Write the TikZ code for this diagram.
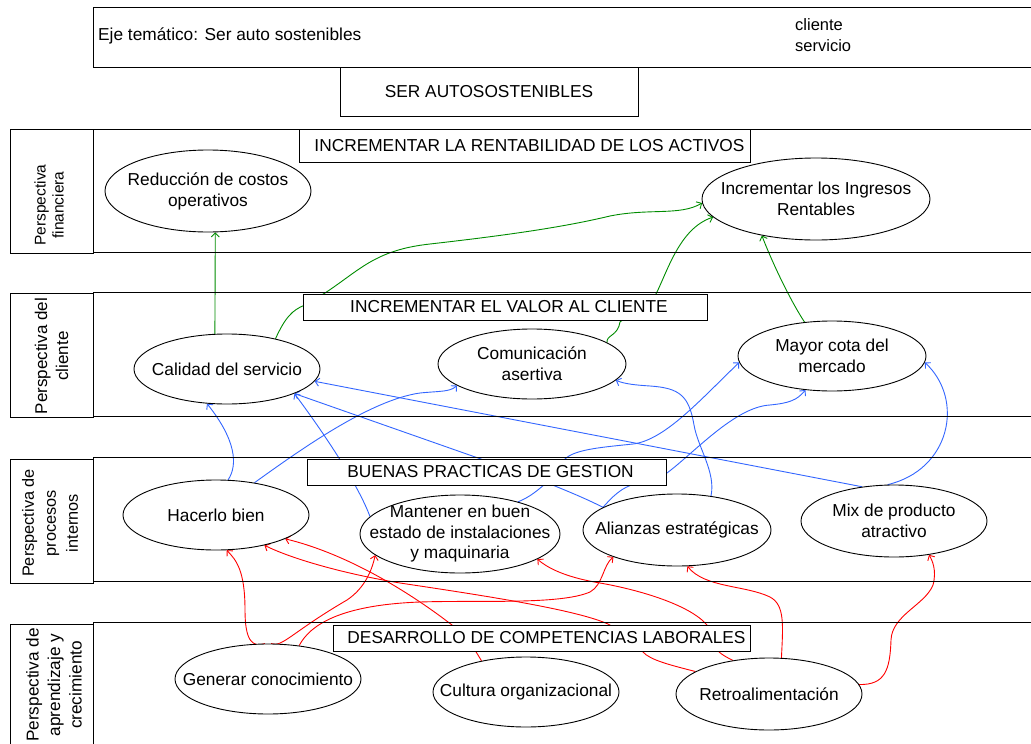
\documentclass[tikz,border=0pt]{standalone}
\usepackage{fontspec}
\setmainfont{Liberation Sans}
\usetikzlibrary{shapes.geometric,arrows.meta}
\pgfdeclarelayer{paper}
\pgfdeclarelayer{links}
\pgfsetlayers{paper,links,main}
\definecolor{lnGreen}{RGB}{0,140,0}
\definecolor{lnBlue}{RGB}{51,102,255}
\definecolor{lnRed}{RGB}{255,0,0}

\begin{document}
\begin{tikzpicture}[x=1pt,y=-1pt,
  txt/.style={font=\fontsize{17.3}{21}\selectfont},
  lbl/.style={align=center,inner sep=0pt,font=\fontsize{17.3}{21}\selectfont},
  oval/.style={ellipse,draw,line width=0.9pt,fill=white,inner sep=0pt},
  band/.style={draw,line width=0.9pt},
  title/.style={draw,line width=0.9pt,fill=white,inner sep=0pt,font=\fontsize{17.3}{21}\selectfont},
  side/.style={rotate=90,align=center,inner sep=0pt},
  conn/.style={line width=0.9pt,-{Straight Barb[length=4pt,width=8pt]}},
  gconn/.style={conn,draw=lnGreen},
  bconn/.style={conn,draw=lnBlue},
  rconn/.style={conn,draw=lnRed}]

\useasboundingbox (0,0) rectangle (1031,744);
\begin{pgfonlayer}{paper}
  \fill[white] (0,0) rectangle (1031,744);
\end{pgfonlayer}

% heading
\draw[band] (93,7) rectangle (1040,67);
\node[txt,anchor=west,inner sep=0pt] (eje) at (98,36) {Eje temático: Ser auto sostenibles};
\node[align=left,anchor=west,inner sep=0pt,font=\fontsize{16.5}{21}\selectfont] (cs) at (795,35) {cliente\\ servicio};
\node[title,minimum width=298pt,minimum height=49pt] (ser) at (489,91.5) {SER AUTOSOSTENIBLES};

% perspective bands
\draw[band] (10,129) rectangle (93,253);
\draw[band] (93,129) rectangle (1040,252);
\draw[band] (10,293) rectangle (93,417);
\draw[band] (93,292) rectangle (1040,416);
\draw[band] (10,459) rectangle (93,583);
\draw[band] (93,457) rectangle (1040,581);
\draw[band] (10,624) rectangle (93,760);
\draw[band] (93,622) rectangle (1040,760);

\node[side,font=\fontsize{15.5}{18}\selectfont] (pf) at (49,205) {Perspectiva\\financiera};
\node[side,font=\fontsize{17}{21}\selectfont] (pc) at (51.5,356) {Perspectiva del\\cliente};
\node[side,font=\fontsize{16.3}{22}\selectfont] (pp) at (50,523) {Perspectiva de\\procesos\\internos};
\node[side,font=\fontsize{17.2}{21.5}\selectfont] (pa) at (54,685) {Perspectiva de\\aprendizaje y\\crecimiento};

% band titles
\node[title,minimum width=451pt,minimum height=33pt] (trent) at (524.5,145.5) {\hspace{10pt}INCREMENTAR LA RENTABILIDAD DE LOS ACTIVOS};
\node[title,minimum width=404pt,minimum height=26pt] (tval) at (505,307) {\hspace{8pt}INCREMENTAR EL VALOR AL CLIENTE};
\node[title,minimum width=359pt,minimum height=26pt] (tbue) at (486.5,472) {\hspace{8pt}BUENAS PRACTICAS DE GESTION};
\node[title,minimum width=417pt,minimum height=26pt] (tdes) at (541.5,638) {\hspace{10pt}DESARROLLO DE COMPETENCIAS LABORALES};

% objectives
\node[oval,minimum width=206pt,minimum height=82pt,label={[lbl]center:{Reducción de costos\\operativos}}] (rdc) at (208,191) {};
\node[oval,minimum width=228pt,minimum height=82pt,label={[lbl]center:{Incrementar los Ingresos\\Rentables}}] (ing) at (816,199) {};
\node[oval,minimum width=186pt,minimum height=70pt,label={[lbl]center:{Calidad del servicio}}] (cal) at (227,369) {};
\node[oval,minimum width=188pt,minimum height=70pt,label={[lbl]center:{Comunicación\\asertiva}}] (com) at (532,364) {};
\node[oval,minimum width=188pt,minimum height=70pt,label={[lbl]center:{Mayor cota del\\mercado}}] (may) at (832,356) {};
\node[oval,minimum width=186pt,minimum height=70pt,label={[lbl]center:{Hacerlo bien}}] (hac) at (216,515) {};
\node[oval,minimum width=200pt,minimum height=78pt,label={[lbl,font=\fontsize{17.3}{20.5}\selectfont]center:{Mantener en buen\\estado de instalaciones\\y maquinaria}}] (man) at (460,534) {};
\node[oval,minimum width=188pt,minimum height=72pt,label={[lbl]center:{Alianzas estratégicas}}] (ali) at (677,530) {};
\node[oval,minimum width=186pt,minimum height=72pt,label={[lbl]center:{Mix de producto\\atractivo}}] (mix) at (894,521) {};
\node[oval,minimum width=186pt,minimum height=70pt,label={[lbl]center:{Generar conocimiento}}] (gen) at (268,679) {};
\node[oval,minimum width=186pt,minimum height=70pt,label={[lbl]center:{Cultura organizacional}}] (cul) at (526,692) {};
\node[oval,minimum width=186pt,minimum height=72pt,label={[lbl]center:{Retroalimentación}}] (ret) at (769,694) {};

\begin{pgfonlayer}{links}
% client -> financial
\draw[gconn] (cal.109) -- (rdc.-80);
\draw[gconn] (cal.32) .. controls (285,318) and (292,310) .. (305,305) -- (325,293)
  .. controls (360,270) and (375,250) .. (430,244) .. controls (500,236) and (560,228) .. (610,216)
  .. controls (650,208) and (680,216) .. (ing.182);
\draw[gconn] (com.16) .. controls (606,335) and (618,336) .. (620,322) -- (656,294)
  .. controls (668,270) and (680,228) .. (ing.190);
\draw[gconn] (may.129) .. controls (790,300) and (772,262) .. (ing.214);

% internal -> client
\draw[bconn] (hac.71) .. controls (238,465) and (236,440) .. (cal.-120);
\draw[bconn] (hac.40) .. controls (300,450) and (370,400) .. (420,393) .. controls (440,391) and (450,392) .. (com.196);
\draw[bconn] (man.169) .. controls (362,495) and (340,455) .. (cal.-20);
\draw[bconn] (ali.163) .. controls (585,498) and (560,488) .. (535,478) -- (cal.-20);
\draw[bconn] (mix.133) -- (cal.-8);
\draw[bconn] (mix.100) .. controls (950,470) and (965,400) .. (may.-4);
\draw[bconn] (ali.163) .. controls (612,497) and (622,487) .. (635,484) -- (667,473)
  .. controls (695,452) and (735,407) .. (770,405) .. controls (790,403) and (797,400) .. (may.-128);
\draw[bconn] (man.29) .. controls (530,497) and (538,490) .. (545,484) -- (565,459)
  .. controls (575,449) and (605,447) .. (633,444) .. controls (665,440) and (700,400) .. (may.184);
\draw[bconn] (ali.45) .. controls (716,472) and (698,448) .. (694,425) .. controls (689,396) and (680,388) .. (650,386)
  .. controls (635,385) and (625,384) .. (com.-11);

% learning -> internal
\draw[rconn] (gen.95) .. controls (252,648) and (245,640) .. (245,610) .. controls (245,570) and (236,560) .. (hac.-73);
\draw[rconn] (gen.85) .. controls (282,648) and (292,632) .. (347,600) .. controls (365,588) and (372,570) .. (man.194);
\draw[rconn] (gen.47) .. controls (310,625) and (340,605) .. (420,602) .. controls (480,600) and (560,605) .. (590,592)
  .. controls (603,585) and (603,565) .. (ali.203);
\draw[rconn] (cul.145) .. controls (478,655) and (470,640) .. (452,625) .. controls (400,585) and (340,552) .. (hac.-19);
\draw[rconn] (ret.163) .. controls (670,665) and (650,660) .. (643,652) -- (610,625)
  .. controls (580,610) and (480,595) .. (400,583) .. controls (340,573) and (290,558) .. (hac.-32);
\draw[rconn] (ret.137) .. controls (728,658) and (722,655) .. (718,651) -- (707,625)
  .. controls (690,605) and (640,590) .. (600,583) .. controls (570,578) and (550,570) .. (man.-18);
\draw[rconn] (ret.71) .. controls (783,625) and (785,605) .. (770,597) .. controls (745,585) and (705,588) .. (ali.-74);
\draw[rconn] (ret.6) .. controls (885,685) and (890,670) .. (891,640) .. controls (892,615) and (925,605) .. (933,585)
  .. controls (937,570) and (932,560) .. (mix.-44);
\end{pgfonlayer}
\end{tikzpicture}
\end{document}
